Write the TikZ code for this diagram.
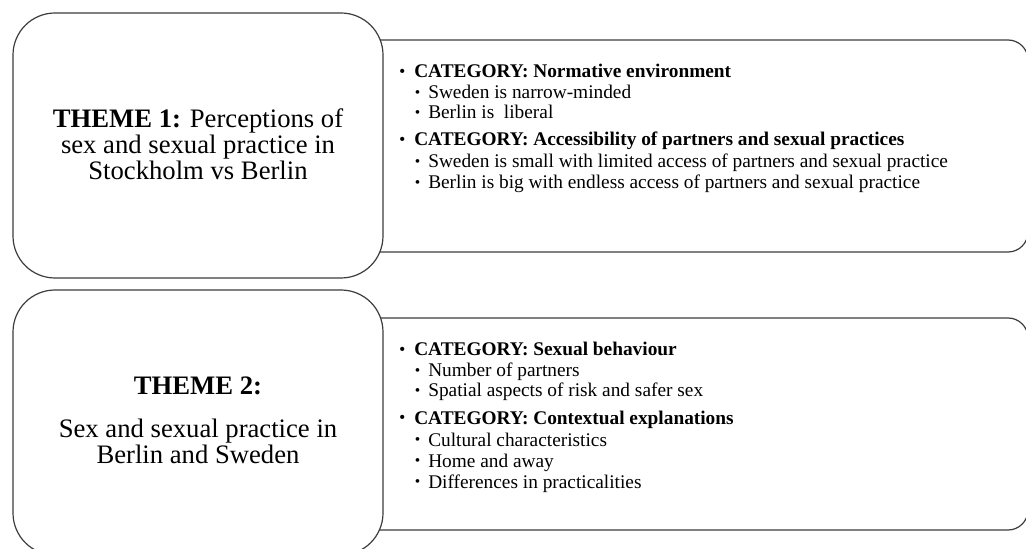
\documentclass[tikz,border=0pt]{standalone}
\usepackage{fontspec}
\usepackage{graphicx}
\setmainfont{Liberation Serif}
\definecolor{edge}{HTML}{3C3C3C}
\newcommand{\bulA}{\llap{\raisebox{0.12ex}{\scalebox{0.8}{\textbullet}}\hspace{7pt}}}
\newcommand{\bulB}{\llap{\raisebox{0.12ex}{\scalebox{0.8}{\textbullet}}\hspace{6pt}}}
\tikzset{
  themebox/.style={draw=edge, line width=0.9pt, fill=white, rounded corners=31.5pt,
    minimum width=277.5pt, minimum height=198.75pt, inner sep=0pt},
  catbox/.style={draw=edge, line width=0.9pt, fill=white, rounded corners=15pt,
    minimum width=516pt, minimum height=159pt, inner sep=0pt},
  themetxt/.style={font=\fontsize{20}{20.25}\selectfont, anchor=base, inner sep=0pt},
  cattxt/.style={font=\fontsize{14.5}{16}\selectfont\bfseries, anchor=base west, inner sep=0pt},
  itemtxt/.style={font=\fontsize{14.5}{16}\selectfont, anchor=base west, inner sep=0pt},
}
\begin{document}
\begin{tikzpicture}[x=0.75pt,y=-0.75pt]
\useasboundingbox (0,0) rectangle (1026,549);
\clip (0,0) rectangle (1026,549);
% category boxes (behind)
\node[catbox] (cat1) at (684,146) {};
\node[catbox] (cat2) at (684,424) {};
% theme boxes
\node[themebox] (th1) at (198,145.5) {};
\node[themebox] (th2) at (198,422.5) {};
% theme 1 text
\node[themetxt] (t1a) at (198,128) {\textbf{THEME 1:} Perceptions of};
\node[themetxt] (t1b) at (198,154) {sex and sexual practice in};
\node[themetxt] (t1c) at (198,180) {Stockholm vs Berlin};
% theme 2 text
\node[themetxt] (t2a) at (198,394) {\textbf{THEME 2:}};
\node[themetxt] (t2b) at (198,437) {Sex and sexual practice in};
\node[themetxt] (t2c) at (198,463) {Berlin and Sweden};
% category box 1
\node[cattxt]  (c1a) at (414,78)  {\bulA CATEGORY: Normative environment};
\node[itemtxt] (c1b) at (428,99)  {\bulB Sweden is narrow-minded};
\node[itemtxt] (c1c) at (428,119) {\bulB Berlin is\ \ liberal};
\node[cattxt]  (c1d) at (414,146) {\bulA CATEGORY: Accessibility of partners and sexual practices};
\node[itemtxt] (c1e) at (428,168) {\bulB Sweden is small with limited access of partners and sexual practice};
\node[itemtxt] (c1f) at (428,189) {\bulB Berlin is big with endless access of partners and sexual practice};
% category box 2
\node[cattxt]  (c2a) at (414,356) {\bulA CATEGORY: Sexual behaviour};
\node[itemtxt] (c2b) at (428,377) {\bulB Number of partners};
\node[itemtxt] (c2c) at (428,397) {\bulB Spatial aspects of risk and safer sex};
\node[cattxt]  (c2d) at (414,424) {\bulA CATEGORY: Contextual explanations};
\node[itemtxt] (c2e) at (428,446) {\bulB Cultural characteristics};
\node[itemtxt] (c2f) at (428,467) {\bulB Home and away};
\node[itemtxt] (c2g) at (428,488) {\bulB Differences in practicalities};
\end{tikzpicture}
\end{document}
